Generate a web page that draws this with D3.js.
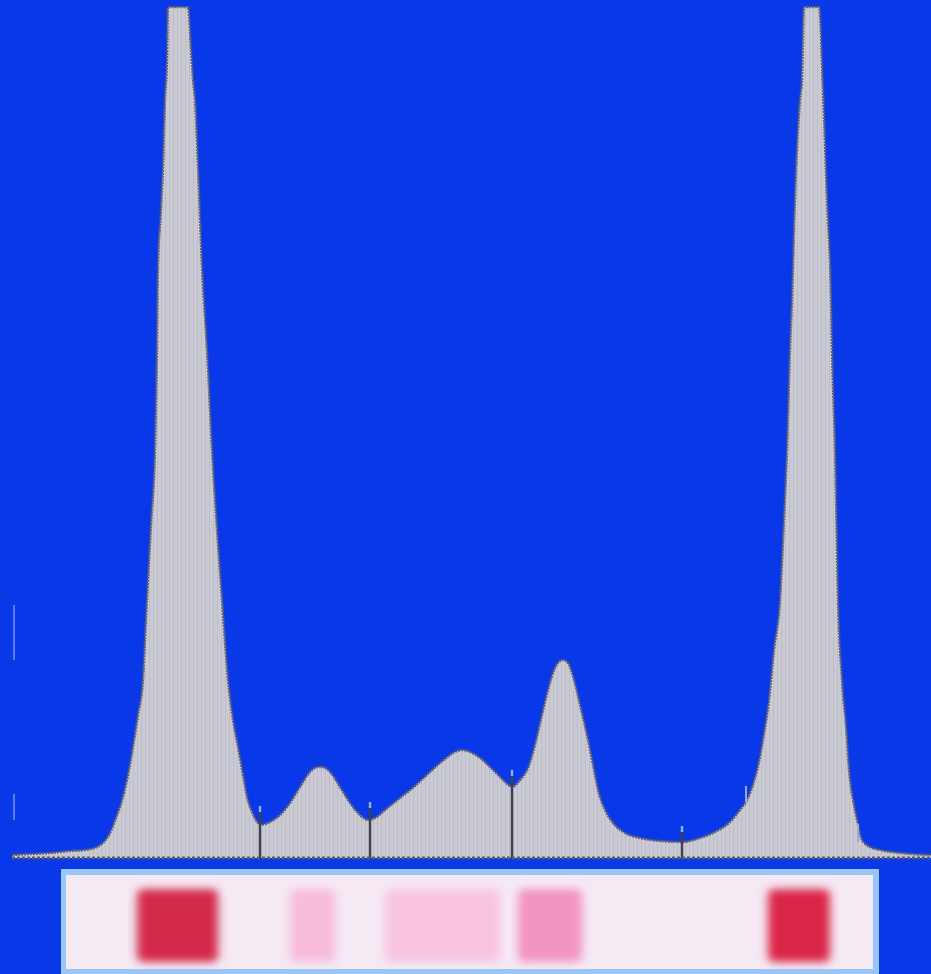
<!DOCTYPE html>
<html><head><meta charset="utf-8">
<script src="https://cdn.jsdelivr.net/npm/d3@7"></script>
<style>html,body{margin:0;padding:0;background:#0838e8;overflow:hidden}</style>
</head><body>
<script>
// Densitometer scan: position (scan sample index) and density (milli-OD units)
const position = [0,18,38,58,73,85,92,98,104,111,116,121,126,131,133,135,139,143,145,146,149,151,153,155,156,176,179,181,183,186,190,195,200,205,210,216,221,226,231,235,240,246,248,258,268,278,288,298,306,310,318,328,338,348,356,363,373,388,403,418,433,443,450,458,468,478,488,498,500,508,516,523,530,536,543,548,551,556,562,568,576,581,586,593,601,613,628,648,670,688,703,718,728,735,743,748,751,757,762,768,772,775,778,780,783,788,790,792,807,811,815,819,820,823,826,830,835,836,838,841,845,850,858,868,888,919];
const density  = [3,4,5,7,8,11,16,25,40,61,83,111,143,178,218,258,333,408,508,591,648,691,758,798,851,851,808,778,758,691,591,508,408,328,258,178,138,111,83,61,46,35,33,36,43,55,71,86,91,91,86,71,55,43,38,40,48,60,72,86,99,106,108,106,100,91,81,72,71,78,90,113,143,168,190,197,198,195,178,153,118,93,68,48,35,25,20,17,16,20,26,36,48,58,80,101,118,158,208,258,338,408,508,558,658,758,778,851,851,768,658,558,508,408,258,178,118,101,78,58,38,18,11,8,5,3];
// Fraction boundary markers: position and marker top density
const dividerPos    = [248,358,500,670];
const dividerTop    = [52,56,88,32];
const dividerBottom = [0,0,0,0];
const minorPos    = [734,846];
const minorTop    = [72,34];
const minorBottom = [56,16];
// Gel strip bands: start/end positions, colour
const bandStart = [125,278,373,506,756];
const bandEnd   = [206,323,488,570,818];
const bandColor = ["#d42a4a","#f7bcd9","#f8c4df","#f294c0","#da2646"];

const W = 931, H = 974;
const svg = d3.select("body").append("svg").attr("width", W).attr("height", H);
svg.append("rect").attr("width", W).attr("height", H).attr("fill", "#0838e8");

const x = d3.scaleLinear().domain([0, 919]).range([12, 931]);
const y = d3.scaleLinear().domain([0, 851]).range([858, 7]);

const defs = svg.append("defs");
const pat = defs.append("pattern").attr("id", "stripe").attr("patternUnits", "userSpaceOnUse")
  .attr("width", 4).attr("height", 4);
pat.append("rect").attr("width", 4).attr("height", 4).attr("fill", "#cacad4");
pat.append("rect").attr("x", 1).attr("width", 1).attr("height", 4).attr("fill", "#bdbdca");
const f = defs.append("filter").attr("id", "blur").attr("x", "-40%").attr("y", "-40%").attr("width", "180%").attr("height", "180%");
f.append("feGaussianBlur").attr("stdDeviation", "5 4");
defs.append("clipPath").attr("id", "gelclip").append("rect")
  .attr("x", 66).attr("y", 875).attr("width", 807).attr("height", 94);

const pts = position.map((p, i) => [p, density[i]]);
const area = d3.area().x(d => x(d[0])).y0(y(0)).y1(d => y(d[1])).curve(d3.curveMonotoneX);
const line = d3.line().x(d => x(d[0])).y(d => y(d[1])).curve(d3.curveMonotoneX);

svg.append("path").datum(pts).attr("d", area).attr("fill", "url(#stripe)");
svg.append("path").datum(pts).attr("d", line).attr("fill", "none")
  .attr("stroke", "#5e5e74").attr("stroke-width", 2.4).attr("stroke-dasharray", "2,1");

// faint left-edge marks
svg.append("line").attr("x1", 14).attr("x2", 14).attr("y1", 605).attr("y2", 660)
  .attr("stroke", "#7d92e8").attr("stroke-width", 1.5);
svg.append("line").attr("x1", 14).attr("x2", 14).attr("y1", 794).attr("y2", 820)
  .attr("stroke", "#7d92e8").attr("stroke-width", 1.5);

// dividers
dividerPos.forEach((p, i) => {
  svg.append("line").attr("x1", x(p)).attr("x2", x(p))
    .attr("y1", y(dividerTop[i]) + 5).attr("y2", y(dividerBottom[i]))
    .attr("stroke", "#40404c").attr("stroke-width", 2.4);
  svg.append("line").attr("x1", x(p)).attr("x2", x(p))
    .attr("y1", y(dividerTop[i])).attr("y2", y(dividerTop[i]) + 6)
    .attr("stroke", "#8fb0f0").attr("stroke-width", 2.4);
});
minorPos.forEach((p, i) => {
  svg.append("line").attr("x1", x(p)).attr("x2", x(p))
    .attr("y1", y(minorTop[i])).attr("y2", y(minorBottom[i]))
    .attr("stroke", "#9aaad8").attr("stroke-width", 2);
});

// baseline
svg.append("line").attr("x1", x(0)).attr("x2", W).attr("y1", y(0)).attr("y2", y(0))
  .attr("stroke", "#5c5c66").attr("stroke-width", 3).attr("stroke-dasharray", "3,2");

// gel strip
svg.append("rect").attr("x", 61).attr("y", 869).attr("width", 818).attr("height", 110).attr("fill", "#98c6f8");
svg.append("rect").attr("x", 66).attr("y", 875).attr("width", 807).attr("height", 94).attr("fill", "#f5e9f4");
const gel = svg.append("g").attr("clip-path", "url(#gelclip)");
bandStart.forEach((s, i) => {
  gel.append("rect").attr("x", x(s)).attr("y", 889).attr("width", x(bandEnd[i]) - x(s)).attr("height", 73)
    .attr("rx", 6).attr("fill", bandColor[i]).attr("filter", "url(#blur)");
});
</script>
</body></html>
